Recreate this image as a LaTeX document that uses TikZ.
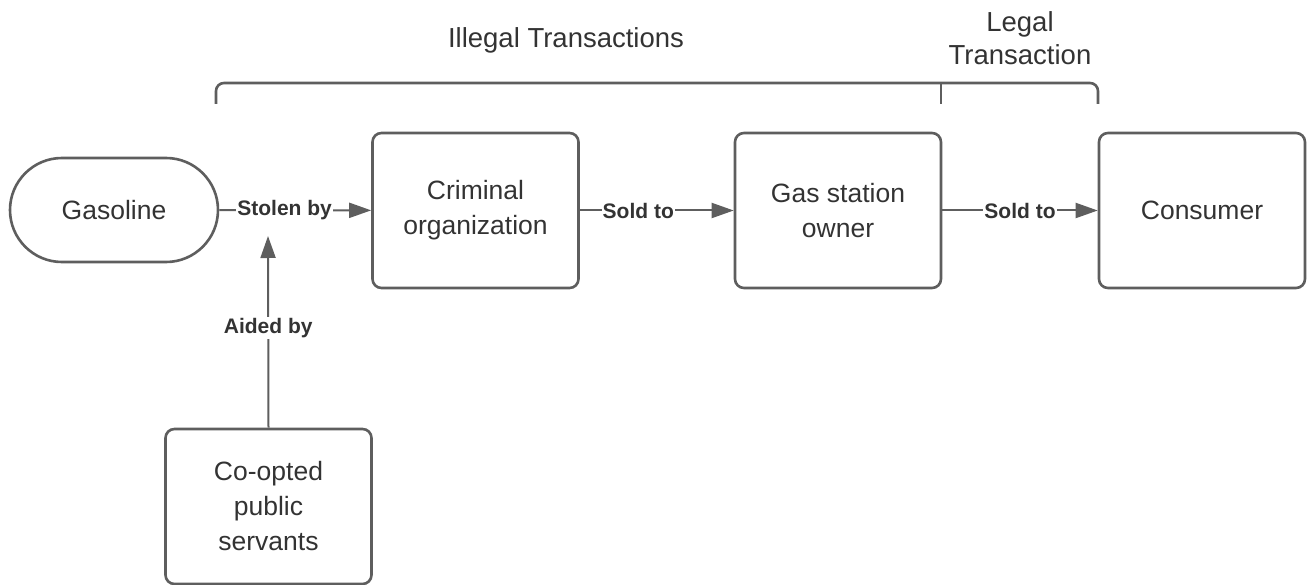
\documentclass[tikz,border=0pt]{standalone}
\usepackage{fontspec}
\setmainfont{Liberation Sans}
\usetikzlibrary{arrows.meta,shapes.misc}
\definecolor{linec}{HTML}{5E5E5E}
\definecolor{textc}{HTML}{333333}
\tikzset{
  boxnode/.style={draw=linec, line width=2.6pt, rounded corners=9pt, minimum width=206pt, minimum height=155pt, inner sep=0pt, align=center, text=textc, font=\fontsize{26.5}{35}\selectfont},
  pillnode/.style={draw=linec, line width=2.6pt, rounded rectangle, minimum width=208pt, minimum height=104pt, inner sep=0pt, text=textc, font=\fontsize{26.5}{35}\selectfont},
  conn/.style={draw=linec, line width=2pt, -{Triangle[length=22pt,width=15pt]}},
  lbl/.style={fill=white, inner sep=1pt, text=textc, font=\fontsize{21}{24}\selectfont\bfseries},
  brk/.style={draw=linec, line width=2.6pt, rounded corners=8pt},
  head/.style={text=textc, align=center, font=\fontsize{27.5}{33}\selectfont},
}
\begin{document}
\begin{tikzpicture}[x=1pt,y=-1pt]
\useasboundingbox (0,0) rectangle (1309,585);
\node[pillnode] (gas) at (114,210) {Gasoline};
\node[boxnode] (crim) at (475.5,210.5) {Criminal\\organization};
\node[boxnode] (owner) at (838,210.5) {Gas station\\owner};
\node[boxnode] (cons) at (1202,210.5) {Consumer};
\node[boxnode] (pub) at (268.5,506.5) {Co-opted\\public\\servants};
\coordinate (aidend) at (268,236);
\draw[conn] (gas) -- node[lbl, pos=0.43] (l1) {Stolen by} (crim);
\draw[conn] (crim) -- node[lbl, pos=0.38] (l2) {Sold to} (owner);
\draw[conn] (owner) -- node[lbl, pos=0.5] (l3) {Sold to} (cons);
\draw[conn] (pub.north) -- node[lbl, pos=0.52] (l4) {Aided by} (aidend);
% brackets
\coordinate (b1) at (216,104);
\coordinate (b2) at (941,104);
\coordinate (b3) at (1098,104);
\draw[brk] (b1) -- (216,83) -- (941,83) -- (1098,83) -- (b3);
\draw[draw=linec, line width=2.6pt] (941,83) -- (b2);
\node[head] (ill) at (566,40) {Illegal Transactions};
\node[head] (leg) at (1020,38) {Legal\\Transaction};
\end{tikzpicture}
\end{document}
